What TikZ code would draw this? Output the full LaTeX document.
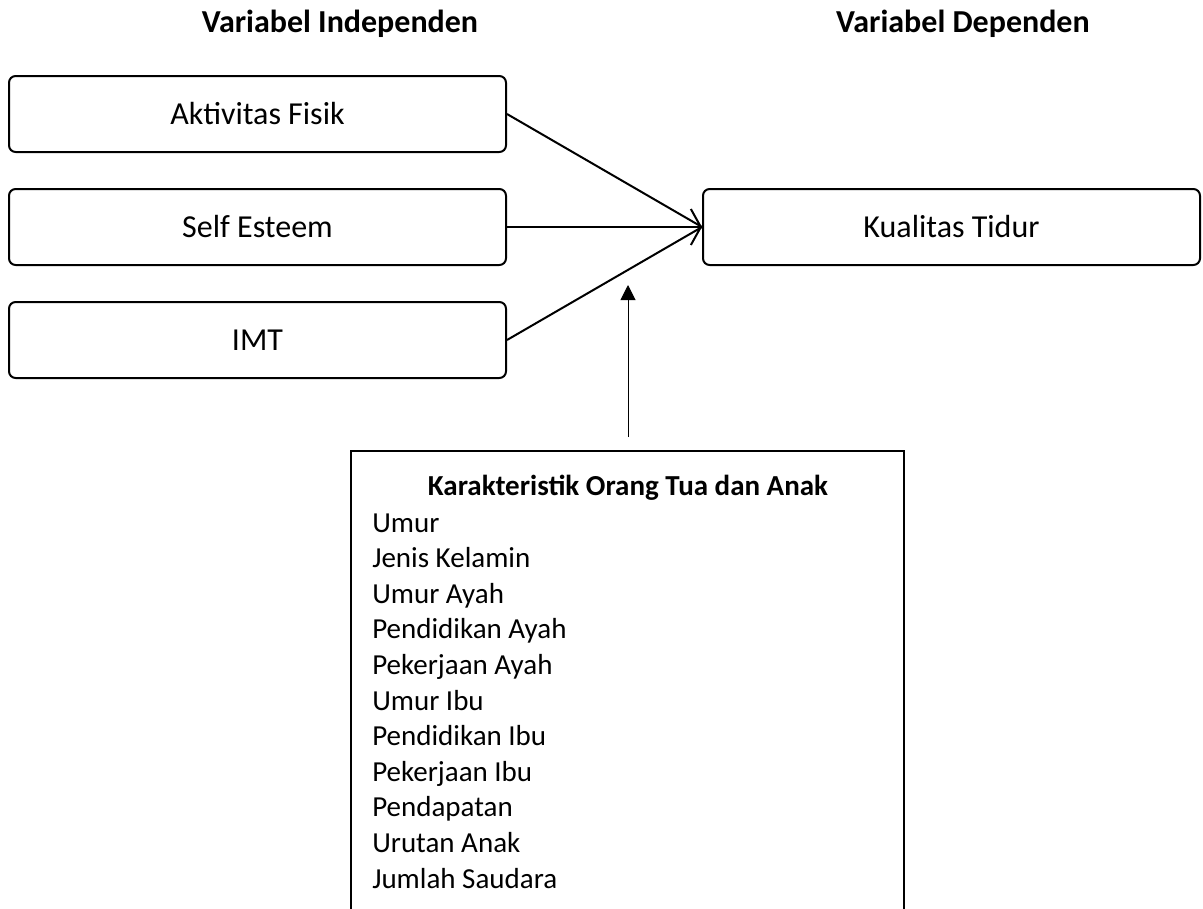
\documentclass[tikz,border=0pt]{standalone}
\usepackage{fontspec}
\setmainfont{Carlito}
\usetikzlibrary{arrows.meta}

\begin{document}
\begin{tikzpicture}[x=0.75pt,y=-0.75pt,
  every node/.style={font=\fontsize{21.75}{26.7}\selectfont, inner sep=0pt},
  bigtext/.style={font=\fontsize{24}{29}\selectfont},
  heading/.style={font=\fontsize{21.75}{26.7}\selectfont\bfseries, anchor=base},
  colhead/.style={font=\fontsize{24}{29}\selectfont\bfseries, anchor=base},
  varbox/.style={draw, line width=1.5pt, rounded corners=5pt, bigtext,
                 text height=15.5pt, text depth=0pt,
                 minimum width=372.75pt, minimum height=57pt},
  conn/.style={line width=1.5pt},
  openhead/.style={-{Straight Barb[length=7.5pt,width=27pt,line width=1.5pt]}},
  thinarrow/.style={line width=0.75pt, -{Triangle[length=11.25pt,width=11.25pt]}},
  item/.style={anchor=base west}
]
\useasboundingbox (0,0) rectangle (1203,908);

% column headings
\node[colhead] (indep) at (340,32) {Variabel Independen};
\node[colhead] (dep)   at (963,32) {Variabel Dependen};

% variable boxes
\node[varbox] (akt)  at (257.5,114) {Aktivitas Fisik};
\node[varbox] (self) at (257.5,227) {Self Esteem};
\node[varbox] (imt)  at (257.5,340) {IMT};
\node[varbox] (kual) at (951.5,227) {Kualitas Tidur};

% independent -> dependent
\draw[conn] (akt.east) -- (kual.west);
\draw[conn] (imt.east) -- (kual.west);
\draw[conn, openhead] (self.east) -- (kual.west);

% characteristics box (open at the bottom)
\draw[line width=1.5pt] (351,915) -- (351,451) -- (904,451) -- (904,915);
\node[heading] (khead) at (628,495) {Karakteristik Orang Tua dan Anak};
\foreach \t [count=\i from 0] in {Umur, Jenis Kelamin, Umur Ayah, Pendidikan Ayah,
    Pekerjaan Ayah, Umur Ibu, Pendidikan Ibu, Pekerjaan Ibu, Pendapatan,
    Urutan Anak, Jumlah Saudara}
  \node[item] (item\i) at (372, 532+35.6*\i) {\t};

% moderating arrow
\coordinate (mbase) at (628,437);
\coordinate (mtip)  at (628,285);
\draw[thinarrow] (mbase) -- (mtip);
\end{tikzpicture}
\end{document}
